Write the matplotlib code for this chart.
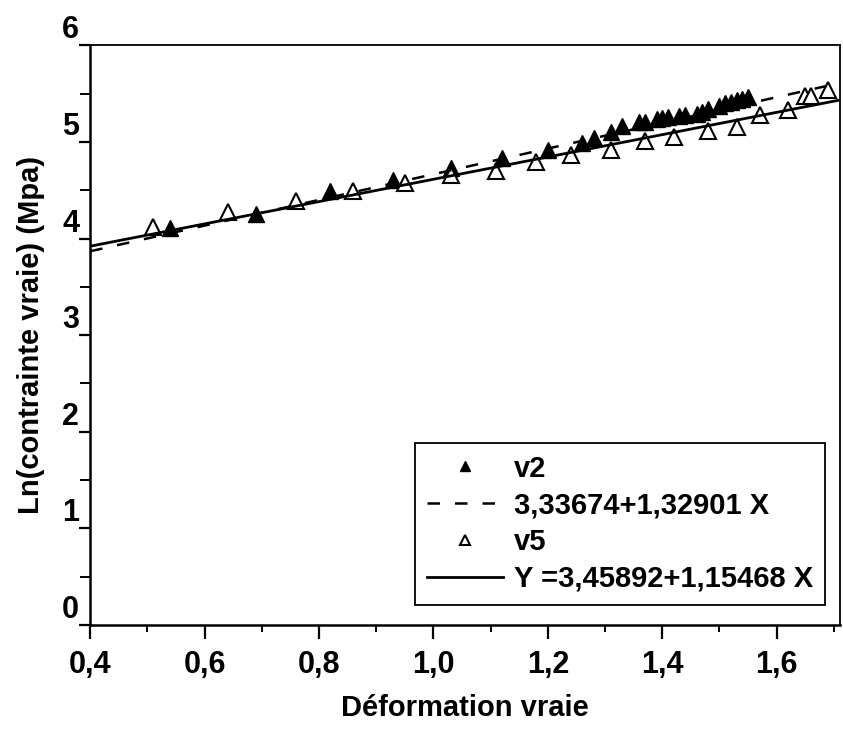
import numpy as np
import matplotlib
matplotlib.use("Agg")
import matplotlib.pyplot as plt

# data
v2_x = [0.54, 0.69, 0.82, 0.93, 1.03, 1.12, 1.20, 1.26, 1.28, 1.31, 1.33, 1.36,
        1.37, 1.39, 1.40, 1.41, 1.43, 1.44, 1.46, 1.47, 1.48, 1.50, 1.51, 1.52,
        1.53, 1.54, 1.55]
v2_y = [4.11, 4.25, 4.49, 4.61, 4.73, 4.83, 4.92, 4.99, 5.04, 5.10, 5.16, 5.21,
        5.21, 5.24, 5.25, 5.26, 5.27, 5.28, 5.29, 5.31, 5.34, 5.37, 5.40, 5.41,
        5.43, 5.44, 5.46]
v5_x = [0.51, 0.64, 0.76, 0.86, 0.95, 1.03, 1.11, 1.18, 1.24, 1.31, 1.37, 1.42,
        1.48, 1.53, 1.57, 1.62, 1.65, 1.66, 1.69]
v5_y = [4.12, 4.27, 4.39, 4.49, 4.57, 4.66, 4.70, 4.79, 4.86, 4.92, 5.01, 5.05,
        5.11, 5.15, 5.28, 5.33, 5.48, 5.48, 5.54]

fit_v2 = (3.33674, 1.32901)
fit_v5 = (3.45892, 1.15468)
lab_v2 = "3,33674+1,32901 X"
lab_v5 = "Y =3,45892+1,15468 X"

x_ticks = [0.4, 0.6, 0.8, 1.0, 1.2, 1.4, 1.6]
y_ticks = [0, 1, 2, 3, 4, 5, 6]

bold = ['Liberation Sans', 'DejaVu Sans']


def main():
    fig = plt.figure(figsize=(8.43, 7.31), dpi=100)
    ax = fig.add_axes([0.107, 0.145, 0.889, 0.793])

    xl = np.array([0.4, 1.71])
    ax.plot(v2_x, v2_y, ls='none', marker='^', ms=12, mfc='black', mec='black',
            label='v2', zorder=2)
    ax.plot(xl, fit_v2[0] + fit_v2[1] * xl, color='black', lw=1.8,
            ls=(0, (5, 6)), label=lab_v2, zorder=3)
    ax.plot(v5_x, v5_y, ls='none', marker='^', ms=12, mfc='white', mec='black',
            mew=1.5, label='v5', zorder=2)
    ax.plot(xl, fit_v5[0] + fit_v5[1] * xl, color='black', lw=2.0,
            label=lab_v5, zorder=3)

    ax.set_xlim(0.4, 1.71)
    ax.set_ylim(0, 6)
    ax.set_xticks(x_ticks)
    ax.set_xticklabels([f"{t:.1f}".replace('.', ',') for t in x_ticks])
    ax.set_xticks(np.arange(0.5, 1.71, 0.2), minor=True)
    ax.set_yticks(y_ticks)
    ax.set_yticklabels([str(t) for t in y_ticks])
    ax.set_yticks(np.arange(0.5, 6, 1.0), minor=True)

    ax.tick_params(axis='x', which='major', direction='out', length=10, width=1.6, pad=8)
    ax.tick_params(axis='x', which='minor', direction='out', length=5, width=1.4)
    ax.tick_params(axis='y', which='major', direction='out', length=8, width=1.6, pad=0)
    ax.tick_params(axis='y', which='minor', direction='out', length=7, width=1.4)
    ax.tick_params(top=False, right=False, which='both')

    for lbl in ax.get_xticklabels() + ax.get_yticklabels():
        lbl.set_family(bold)
        lbl.set_fontweight('bold')
        lbl.set_fontsize(22)
    for lbl in ax.get_yticklabels():
        lbl.set_va('bottom')

    for side in ['left', 'bottom']:
        ax.spines[side].set_linewidth(1.8)
    for side in ['top', 'right']:
        ax.spines[side].set_linewidth(1.3)

    ax.set_xlabel("Déformation vraie", fontsize=21, fontweight='bold',
                  family=bold, labelpad=10)
    ax.set_ylabel("Ln(contrainte vraie) (Mpa)", fontsize=21, fontweight='bold',
                  family=bold, labelpad=12)

    leg = ax.legend(loc='lower right', bbox_to_anchor=(1.0, 0.01),
                    prop={'family': bold, 'weight': 'bold', 'size': 21},
                    markerscale=0.6, handlelength=2.6, handletextpad=0.4,
                    labelspacing=0.3, borderpad=0.4, fancybox=False,
                    framealpha=1, edgecolor='black')
    leg.get_frame().set_linewidth(1.3)

    fig.savefig("out.png", dpi=100)


if __name__ == "__main__":
    main()
